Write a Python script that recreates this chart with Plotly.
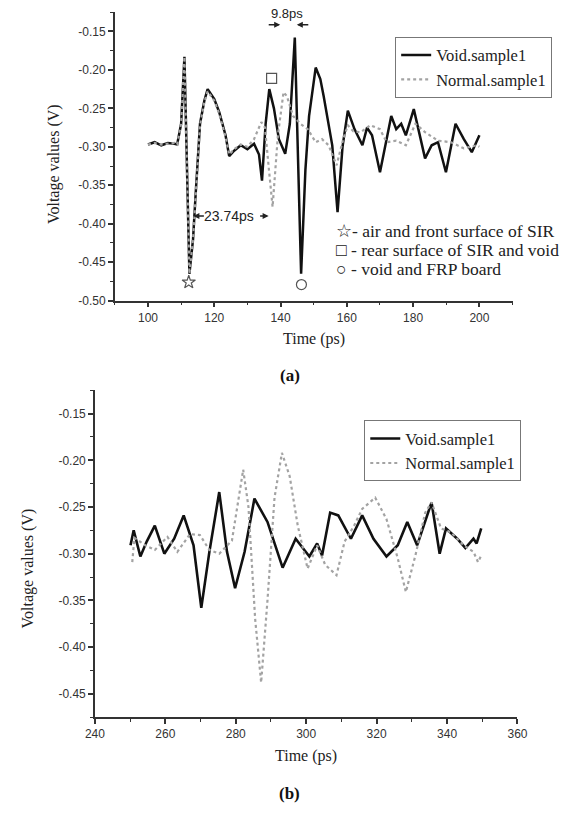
import plotly.graph_objects as go

# ---------------- data: panel (a) ----------------
void_a_t = [100, 102, 104, 106, 108, 108.8, 110, 111, 112.5, 113.6, 114.4, 115.7, 117, 118, 120, 121.5,
            123.4, 124.5, 126, 128, 130, 132, 133.5, 134.4, 135.5, 136.6, 138, 139.5, 141.4, 142.8,
            144.3, 146.2, 147.5, 148.6, 150.6, 152, 153, 155.6, 157.2, 158.7, 160.3, 162.3, 164.7,
            166.1, 167.6, 170, 173.4, 174.9, 176.4, 177.8, 180.2, 181.7, 183.6, 185.6, 187.5, 189.9,
            192.8, 195.3, 197.7, 200]
void_a_v = [-0.297, -0.294, -0.298, -0.295, -0.296, -0.297, -0.27, -0.183, -0.465, -0.42, -0.36, -0.27,
            -0.24, -0.225, -0.238, -0.255, -0.285, -0.312, -0.305, -0.298, -0.303, -0.296, -0.31,
            -0.344, -0.27, -0.225, -0.25, -0.29, -0.309, -0.27, -0.158, -0.465, -0.33, -0.26, -0.197,
            -0.212, -0.234, -0.298, -0.385, -0.30, -0.253, -0.277, -0.298, -0.275, -0.285, -0.333,
            -0.26, -0.277, -0.270, -0.285, -0.251, -0.281, -0.315, -0.298, -0.294, -0.333, -0.270,
            -0.290, -0.307, -0.285]

normal_a_t = [100, 102, 104, 106, 108, 108.8, 110, 111, 112.5, 113.6, 114.4, 115.7, 117, 118, 120, 121.5,
              123.4, 124.5, 126, 128, 130, 132, 134.2, 135.3, 136.5, 137.6, 139.2, 140.9, 141.9, 143.8,
              146, 148.2, 150.6, 152.5, 154.5, 156.9, 158.9, 160.3, 162, 164.2, 167.1, 170, 172, 174.9,
              177.8, 180.7, 183.6, 187.5, 191.4, 195.3, 199.2, 200]
normal_a_v = [-0.297, -0.295, -0.297, -0.296, -0.295, -0.297, -0.27, -0.183, -0.465, -0.42, -0.36, -0.272,
              -0.242, -0.228, -0.24, -0.257, -0.287, -0.31, -0.303, -0.297, -0.3, -0.29, -0.268, -0.275,
              -0.33, -0.378, -0.285, -0.229, -0.234, -0.26, -0.27, -0.277, -0.294, -0.29, -0.298, -0.324,
              -0.290, -0.272, -0.28, -0.281, -0.272, -0.277, -0.294, -0.292, -0.298, -0.270, -0.281,
              -0.292, -0.294, -0.302, -0.298, -0.300]

# reflection markers (star, square, circle)
mark_t = [112.3, 137.3, 146.3]
mark_v = [-0.476, -0.211, -0.479]
mark_sym = ["star-open", "square-open", "circle-open"]

# ---------------- data: panel (b) ----------------
void_b_t = [250.1, 251, 252.9, 254.7, 257, 259.7, 262.5, 265.2, 268, 270.2, 272.5, 275.3, 277.5, 279.8,
            282.5, 285.3, 289, 293.3, 297, 300.9, 303.1, 304.5, 306.8, 309.1, 312.7, 315.9, 319.1,
            322.8, 326, 328.7, 331.5, 335.6, 337.9, 339.7, 342.9, 345.2, 347.5, 348.4, 349.7]
void_b_v = [-0.291, -0.275, -0.303, -0.287, -0.270, -0.300, -0.284, -0.259, -0.291, -0.358, -0.298,
            -0.234, -0.298, -0.337, -0.298, -0.241, -0.266, -0.315, -0.284, -0.303, -0.289, -0.302,
            -0.256, -0.259, -0.284, -0.259, -0.284, -0.303, -0.291, -0.266, -0.291, -0.245, -0.300,
            -0.273, -0.284, -0.294, -0.284, -0.289, -0.273]

normal_b_t = [250.6, 251.2, 254.3, 257, 260.6, 263.4, 267, 269.8, 272.5, 275.3, 278.9, 282.1, 283.6,
              285.5, 287.2, 289, 291, 293.1, 295.3, 297.6, 300.4, 303.1, 305.4, 308.6, 310.9, 313.6,
              315.9, 319.6, 322.8, 326, 328.3, 331, 333.8, 335.6, 338.3, 341.1, 344.7, 347.5, 348.8, 349.7]
normal_b_v = [-0.309, -0.283, -0.291, -0.296, -0.282, -0.298, -0.279, -0.280, -0.296, -0.300, -0.286,
              -0.210, -0.25, -0.37, -0.438, -0.35, -0.24, -0.192, -0.217, -0.270, -0.316, -0.291, -0.312,
              -0.323, -0.287, -0.270, -0.252, -0.240, -0.263, -0.305, -0.341, -0.302, -0.256, -0.245,
              -0.273, -0.277, -0.291, -0.298, -0.309, -0.302]

# ---------------- tick labels ----------------
xa_ticks = [100, 120, 140, 160, 180, 200]
xb_ticks = [240, 260, 280, 300, 320, 340, 360]
ya_ticks = [-0.50, -0.45, -0.40, -0.35, -0.30, -0.25, -0.20, -0.15]
yb_ticks = [-0.45, -0.40, -0.35, -0.30, -0.25, -0.20, -0.15]
ya_text = ["-0.50", "-0.45", "-0.40", "-0.35", "-0.30", "-0.25", "-0.20", "-0.15"]
yb_text = ["-0.45", "-0.40", "-0.35", "-0.30", "-0.25", "-0.20", "-0.15"]

VOID_C = "#111111"
NORM_C = "#a3a3a3"
SERIF = "Liberation Serif, Times New Roman, serif"
SANS = "Liberation Sans, Arial, sans-serif"

fig = go.Figure()
fig.add_trace(go.Scatter(x=void_a_t, y=void_a_v, mode="lines", name="Void.sample1",
                         line=dict(color=VOID_C, width=2.5), xaxis="x", yaxis="y", legend="legend"))
fig.add_trace(go.Scatter(x=normal_a_t, y=normal_a_v, mode="lines", name="Normal.sample1",
                         line=dict(color=NORM_C, width=2.2, dash="dot"), xaxis="x", yaxis="y", legend="legend"))
fig.add_trace(go.Scatter(x=mark_t, y=mark_v, mode="markers", showlegend=False,
                         marker=dict(symbol=mark_sym, size=10, color="#555555", line=dict(width=1.2)),
                         xaxis="x", yaxis="y"))
fig.add_trace(go.Scatter(x=void_b_t, y=void_b_v, mode="lines", name="Void.sample1",
                         line=dict(color=VOID_C, width=2.6), xaxis="x2", yaxis="y2", legend="legend2"))
fig.add_trace(go.Scatter(x=normal_b_t, y=normal_b_v, mode="lines", name="Normal.sample1",
                         line=dict(color=NORM_C, width=2.2, dash="dot"), xaxis="x2", yaxis="y2", legend="legend2"))

W, H = 577, 813
def px(x):
    return x / W
def py(y):
    return 1 - y / H

axis_common = dict(showline=True, linecolor="#333333", linewidth=1.5, showgrid=False, zeroline=False,
                   ticks="outside", ticklen=5, tickwidth=1.5, tickcolor="#333333",
                   tickfont=dict(family=SANS, size=12, color="#333333"))

fig.update_layout(
    width=W, height=H, margin=dict(l=0, r=0, t=0, b=0),
    paper_bgcolor="white", plot_bgcolor="white",
    xaxis=dict(domain=[px(108.6), px(520.6)], range=[90, 210], anchor="y",
               tickmode="array", tickvals=xa_ticks,
               minor=dict(tickmode="linear", tick0=90, dtick=10, ticks="outside", ticklen=3,
                          tickwidth=1.2, tickcolor="#333333"),
               **axis_common),
    yaxis=dict(domain=[py(303.3), py(12.3)], range=[-0.50, -0.125], anchor="x",
               tickmode="array", tickvals=ya_ticks, ticktext=ya_text,
               minor=dict(tickmode="linear", tick0=-0.5, dtick=0.025, ticks="outside", ticklen=3,
                          tickwidth=1.2, tickcolor="#333333"),
               **axis_common),
    xaxis2=dict(domain=[px(88), px(525.7)], range=[240, 360], anchor="y2",
                tickmode="array", tickvals=xb_ticks,
                minor=dict(tickmode="linear", tick0=240, dtick=10, ticks="outside", ticklen=3,
                           tickwidth=1.2, tickcolor="#333333"),
                **axis_common),
    yaxis2=dict(domain=[py(723.3), py(393.7)], range=[-0.475, -0.125], anchor="x2",
                tickmode="array", tickvals=yb_ticks, ticktext=yb_text,
                minor=dict(tickmode="linear", tick0=-0.475, dtick=0.025, ticks="outside", ticklen=3,
                           tickwidth=1.2, tickcolor="#333333"),
                **axis_common),
    legend=dict(x=px(399), y=py(37), xanchor="left", yanchor="top",
                bgcolor="white", bordercolor="#777777", borderwidth=1,
                font=dict(family=SERIF, size=16.5, color="#222222"), tracegroupgap=0),
    legend2=dict(x=px(367), y=py(424), xanchor="left", yanchor="top",
                 bgcolor="white", bordercolor="#777777", borderwidth=1,
                 font=dict(family=SERIF, size=16.5, color="#222222"), tracegroupgap=0),
    showlegend=True,
)

ann = []
title_font = dict(family=SERIF, size=16, color="#222222")
# axis titles
ann.append(dict(text="Voltage values (V)", x=px(45), y=py(165), xref="paper", yref="paper",
                xanchor="center", yanchor="middle",
                textangle=-90, showarrow=False, font=title_font))
ann.append(dict(text="Time (ps)", x=px(314.6), y=py(342), xref="paper", yref="paper",
                xanchor="center", yanchor="middle", showarrow=False, font=title_font))
ann.append(dict(text="<b>(a)</b>", x=px(290), y=py(379), xref="paper", yref="paper",
                xanchor="center", yanchor="middle",
                showarrow=False, font=dict(family=SERIF, size=17, color="#111111")))
ann.append(dict(text="Voltage values (V)", x=px(19), y=py(573), xref="paper", yref="paper",
                xanchor="center", yanchor="middle",
                textangle=-90, showarrow=False, font=title_font))
ann.append(dict(text="Time (ps)", x=px(307), y=py(763), xref="paper", yref="paper",
                xanchor="center", yanchor="middle", showarrow=False, font=title_font))
ann.append(dict(text="<b>(b)</b>", x=px(290), y=py(800), xref="paper", yref="paper",
                xanchor="center", yanchor="middle",
                showarrow=False, font=dict(family=SERIF, size=17, color="#111111")))

# marker key
key_font = dict(family=SERIF, size=17.5, color="#222222")
ann.append(dict(text="☆- air and front surface of SIR", x=px(336), y=py(233), xref="paper", yref="paper",
                xanchor="left", yanchor="middle", showarrow=False, font=key_font))
ann.append(dict(text="□ - rear surface of SIR and void", x=px(336), y=py(252), xref="paper", yref="paper",
                xanchor="left", yanchor="middle", showarrow=False, font=key_font))
ann.append(dict(text="○ - void and FRP board", x=px(336), y=py(271), xref="paper", yref="paper",
                xanchor="left", yanchor="middle", showarrow=False, font=key_font))

# time-difference annotations
dim_font = dict(family=SANS, size=14, color="#222222")
ann.append(dict(text="23.74ps", x=124.5, y=-0.390, xref="x", yref="y", showarrow=False, font=dim_font))
ann.append(dict(text="", x=113.7, y=-0.390, xref="x", yref="y", showarrow=True, ax=12, ay=0,
                arrowhead=2, arrowsize=0.8, arrowwidth=1.5, arrowcolor="#222222"))
ann.append(dict(text="", x=136.4, y=-0.390, xref="x", yref="y", showarrow=True, ax=-10, ay=0,
                arrowhead=2, arrowsize=0.8, arrowwidth=1.5, arrowcolor="#222222"))
ann.append(dict(text="9.8ps", x=141.9, y=-0.1272, xref="x", yref="y", showarrow=False,
                font=dict(family=SANS, size=13, color="#222222")))
ann.append(dict(text="", x=139.9, y=-0.1414, xref="x", yref="y", showarrow=True, ax=-13, ay=0,
                arrowhead=2, arrowsize=0.8, arrowwidth=1.5, arrowcolor="#222222"))
ann.append(dict(text="", x=144.9, y=-0.1414, xref="x", yref="y", showarrow=True, ax=13, ay=0,
                arrowhead=2, arrowsize=0.8, arrowwidth=1.5, arrowcolor="#222222"))

fig.update_layout(annotations=ann)
fig.write_html("out.html", config={"displayModeBar": False},
               post_script="document.body.style.margin='0';")
